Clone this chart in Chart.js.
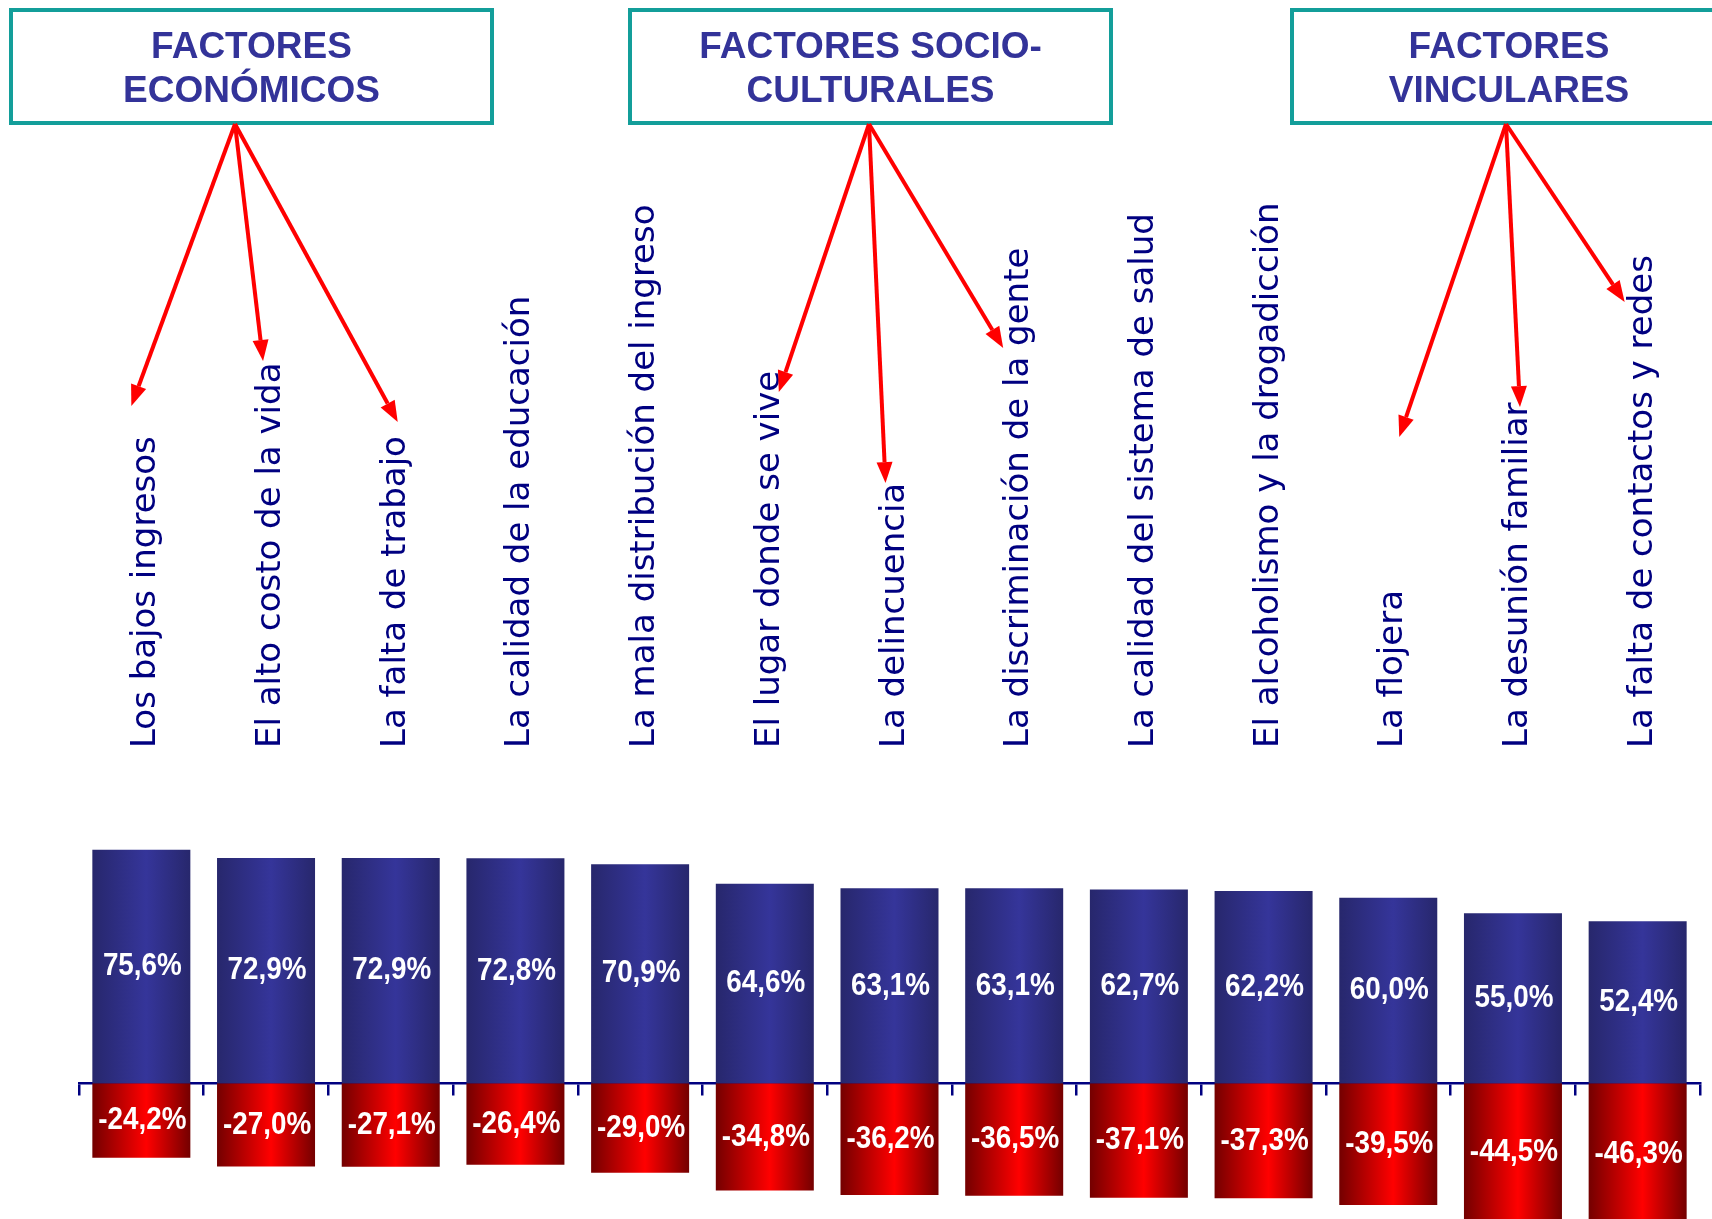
<!DOCTYPE html>
<html>
<head>
<meta charset="utf-8">
<script src="https://cdn.jsdelivr.net/npm/chart.js@4.4.1/dist/chart.umd.min.js"></script>
<style>
	html, body { margin: 0; padding: 0; background: #fff; }
</style>
</head>
<body>
<canvas id="chart" width="1712" height="1219"></canvas>
<script>
const categories = [
	'Los bajos ingresos',
	'El alto costo de la vida',
	'La falta de trabajo',
	'La calidad de la educación',
	'La mala distribución del ingreso',
	'El lugar donde se vive',
	'La delincuencia',
	'La discriminación de la gente',
	'La calidad del sistema de salud',
	'El alcoholismo y la drogadicción',
	'La flojera',
	'La desunión familiar',
	'La falta de contactos y redes'
];
const positives = [75.6, 72.9, 72.9, 72.8, 70.9, 64.6, 63.1, 63.1, 62.7, 62.2, 60.0, 55.0, 52.4];
const negatives = [-24.2, -27.0, -27.1, -26.4, -29.0, -34.8, -36.2, -36.5, -37.1, -37.3, -39.5, -44.5, -46.3];
const groupTitles = [
	['FACTORES', 'ECONÓMICOS'],
	['FACTORES SOCIO-', 'CULTURALES'],
	['FACTORES', 'VINCULARES']
];
const groupMembers = [[0, 1, 2], [5, 6, 7], [10, 11, 12]];

// layout of the group boxes and arrows (not data)
const boxes = [
	{ x: 11, y: 10, w: 481, h: 113, ox: 235 },
	{ x: 630, y: 10, w: 481, h: 113, ox: 869 },
	{ x: 1292, y: 10, w: 434, h: 113, ox: 1506 }
];
// per arrow: horizontal offset from the category centre, tip y
const arrowTips = [
	[[-10, 406], [-3, 361], [7, 422]],
	[[14, 392], [-4, 483], [-11, 348]],
	[[11, 437], [7, 407], [-13, 302]]
];

const fmt = v => v.toFixed(1).replace('.', ',') + '%';

function barFill(ctx, dark, light) {
	const chart = ctx.chart;
	const xs = chart.scales.x;
	if (!chart.chartArea || !xs || ctx.dataIndex === undefined) return light;
	const cx = xs.getPixelForValue(ctx.dataIndex);
	const half = xs.width / categories.length * 0.79 / 2;
	const g = chart.ctx.createLinearGradient(cx - half, 0, cx + half, 0);
	g.addColorStop(0, dark);
	g.addColorStop(0.55, light);
	g.addColorStop(1, dark);
	return g;
}

const valueLabels = {
	id: 'valueLabels',
	afterDatasetsDraw(chart) {
		const c = chart.ctx;
		chart.data.datasets.forEach((ds, di) => {
			chart.getDatasetMeta(di).data.forEach((bar, i) => {
				c.save();
				c.translate(bar.x + 1, (bar.y + bar.base) / 2);
				c.scale(0.87, 1);
				c.fillStyle = '#fff';
				c.font = 'bold 32px "Liberation Sans", Arial';
				c.textAlign = 'center';
				c.textBaseline = 'middle';
				c.fillText(fmt(ds.data[i]), 0, 0);
				c.restore();
			});
		});
	}
};

const groups = {
	id: 'groups',
	afterDraw(chart) {
		const c = chart.ctx;
		const xs = chart.scales.x;
		c.save();
		boxes.forEach((b, gi) => {
			c.lineWidth = 4;
			c.strokeStyle = '#139e9a';
			c.strokeRect(b.x, b.y, b.w, b.h);
			c.fillStyle = '#333399';
			c.font = 'bold 37px "Liberation Sans", Arial';
			c.textAlign = 'center';
			c.textBaseline = 'middle';
			const cx = b.x + b.w / 2;
			c.fillText(groupTitles[gi][0], cx, 48);
			c.fillText(groupTitles[gi][1], cx, 92);

			c.strokeStyle = '#ff0000';
			c.fillStyle = '#ff0000';
			c.lineWidth = 4;
			groupMembers[gi].forEach((idx, k) => {
				const [dx, ty] = arrowTips[gi][k];
				const tx = xs.getPixelForValue(idx) + dx;
				const sx = b.ox, sy = b.y + b.h + 1;
				const a = Math.atan2(ty - sy, tx - sx);
				const hl = 21, hw = 8;
				const bx = tx - hl * Math.cos(a), by = ty - hl * Math.sin(a);
				c.beginPath();
				c.moveTo(sx, sy);
				c.lineTo(bx, by);
				c.stroke();
				c.beginPath();
				c.moveTo(tx, ty);
				c.lineTo(bx + hw * Math.sin(a), by - hw * Math.cos(a));
				c.lineTo(bx - hw * Math.sin(a), by + hw * Math.cos(a));
				c.closePath();
				c.fill();
			});
		});
		c.restore();
	}
};

new Chart(document.getElementById('chart').getContext('2d'), {
	type: 'bar',
	data: {
		labels: categories,
		datasets: [{
			label: 'Positivo',
			data: positives,
			xAxisID: 'x',
			backgroundColor: ctx => barFill(ctx, '#27276c', '#35359a')
		}, {
			label: 'Negativo',
			data: negatives,
			xAxisID: 'x',
			backgroundColor: ctx => barFill(ctx, '#730000', '#ff0000')
		}]
	},
	options: {
		responsive: false,
		animation: false,
		categoryPercentage: 1,
		barPercentage: 0.786,
		layout: { padding: { left: 79, right: 12, top: 0, bottom: 0 } },
		plugins: { legend: { display: false }, tooltip: { enabled: false } },
		scales: {
			x: {
				position: 'top',
				stacked: true,
				grid: { display: false, drawTicks: false },
				border: { display: false },
				ticks: {
					autoSkip: false,
					minRotation: 90,
					maxRotation: 90,
					padding: 14,
					labelOffset: 46,
					color: '#000080',
					font: { family: '"DejaVu Sans"', size: 34 }
				},
				afterFit: s => { s.height = 762; s.paddingLeft = 0; s.paddingRight = 0; }
			},
			x2: {
				type: 'category',
				labels: categories,
				position: { y: 0 },
				offset: true,
				z: 1,
				grid: { offset: true, drawOnChartArea: false, tickLength: 11, color: '#000080', lineWidth: 2.5 },
				border: { color: '#000080', width: 2.5 },
				ticks: { display: false }
			},
			y: { display: false, min: -44, max: 104 }
		}
	},
	plugins: [valueLabels, groups]
});
</script>
</body>
</html>
